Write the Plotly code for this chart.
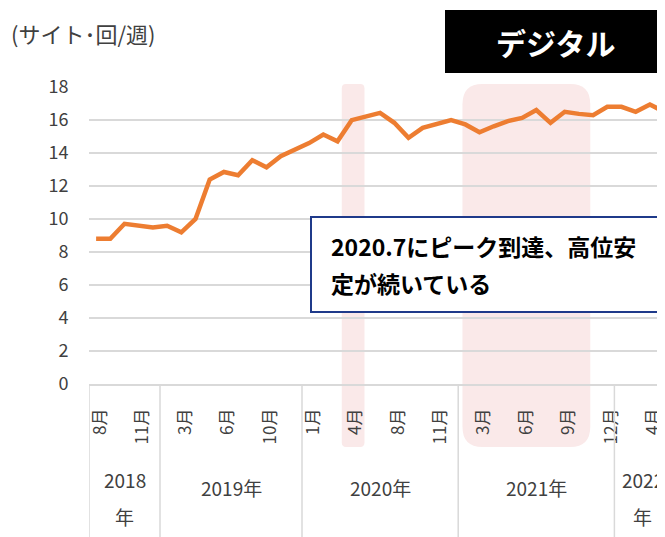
import plotly.graph_objects as go

# survey points (year / month) and weekly site visits
years = [2018] * 5 + [2019] * 10 + [2020] * 11 + [2021] * 11 + [2022] * 4
months = [8, 9, 10, 11, 12,
          2, 3, 4, 5, 6, 7, 9, 10, 11, 12,
          1, 2, 3, 4, 5, 7, 8, 9, 10, 11, 12,
          2, 3, 4, 5, 6, 7, 8, 9, 10, 11, 12,
          2, 3, 4, 5]
visits = [8.8, 8.8, 9.71, 9.59, 9.49,
          9.59, 9.19, 10.0, 12.39, 12.85, 12.65, 13.56, 13.13, 13.8, 14.17,
          14.6, 15.12, 14.71, 15.99, 16.19, 16.43, 15.83, 14.92, 15.52, 15.77, 15.99,
          15.73, 15.26, 15.62, 15.93, 16.13, 16.6, 15.83, 16.5, 16.37, 16.29, 16.8,
          16.8, 16.5, 16.94, 16.5]
year_labels = {2018: ["2018", "年"], 2019: ["2019年"], 2020: ["2020年"],
               2021: ["2021年"], 2022: ["2022", "年"]}
y_ticks = list(range(0, 19, 2))

FONT = "Noto Sans CJK JP"
GRID = "#D9D9D9"
OFF = 8                      # page body margin
W, H = 665 - OFF, 537 - OFF
L, T, PH = 89 - OFF, 87 - OFF, 297
R, B = 0, H - T - PH
PW = W - L - R


def px(x):
    # reference pixel -> paper fraction
    return (x - OFF - L) / PW


def py(y):
    return (384 - y) / PH


def rounded_rect(x0, x1, y0, y1, rx, ry):
    return (f"M{x0 + rx},{y1} L{x1 - rx},{y1} Q{x1},{y1} {x1},{y1 - ry} "
            f"L{x1},{y0 + ry} Q{x1},{y0} {x1 - rx},{y0} "
            f"L{x0 + rx},{y0} Q{x0},{y0} {x0},{y0 + ry} "
            f"L{x0},{y1 - ry} Q{x0},{y1} {x0 + rx},{y1} Z")


idx = list(range(len(visits)))
fig = go.Figure()
fig.add_trace(go.Scatter(
    x=idx, y=visits, mode="lines",
    line=dict(color="#ED7D31", width=4.5),
    hoverinfo="skip",
))

tickvals = [i for i in idx if i % 3 == 0]
ticktext = [f"{months[i]}月" for i in tickvals]

shapes = []
annotations = []

# shaded periods
pink = "#FAE9E9"
shapes.append(dict(type="path", xref="x", yref="paper", layer="below",
                   path=rounded_rect(17.3, 18.9, py(447), py(84), 0.3, 0.015),
                   fillcolor=pink, line=dict(width=0)))
shapes.append(dict(type="path", xref="x", yref="paper", layer="below",
                   path=rounded_rect(25.8, 34.8, py(447), py(84), 1.4, 0.068),
                   fillcolor=pink, line=dict(width=0)))

# year group dividers and labels
bounds = [0] + [i for i in idx[1:] if years[i] != years[i - 1]]
for b in bounds:
    shapes.append(dict(type="line", xref="x", yref="paper",
                       x0=b - 0.5, x1=b - 0.5, y0=0, y1=py(540),
                       line=dict(color=GRID, width=1.5)))
for yr, lines in year_labels.items():
    members = [i for i in idx if years[i] == yr]
    centre = (members[0] + members[-1]) / 2
    ys = [479, 516] if len(lines) == 2 else [487]
    for txt, yy in zip(lines, ys):
        annotations.append(dict(x=centre, xref="x", y=py(yy), yref="paper",
                                text=txt, showarrow=False, xanchor="center", yanchor="middle",
                                font=dict(family=FONT, size=19, color="#404040")))

# comment box
shapes.append(dict(type="rect", xref="paper", yref="paper",
                   x0=px(311), x1=px(680), y0=py(312), y1=py(217),
                   fillcolor="white", line=dict(color="#1F3A8A", width=2)))
annotations.append(dict(x=px(329), y=py(246), xref="paper", yref="paper",
                        text="<b>2020.7にピーク到達、高位安</b>", showarrow=False,
                        xanchor="left", yanchor="middle",
                        font=dict(family=FONT, size=23, color="black")))
annotations.append(dict(x=px(329), y=py(283), xref="paper", yref="paper",
                        text="<b>定が続いている</b>", showarrow=False,
                        xanchor="left", yanchor="middle",
                        font=dict(family=FONT, size=23, color="black")))

# title badge
shapes.append(dict(type="rect", xref="paper", yref="paper",
                   x0=px(445), x1=px(680), y0=py(73), y1=py(10),
                   fillcolor="black", line=dict(width=0)))
annotations.append(dict(x=px(555), y=py(42), xref="paper", yref="paper",
                        text="<b>デジタル</b>", showarrow=False,
                        xanchor="center", yanchor="middle",
                        font=dict(family=FONT, size=30, color="white")))

# unit
annotations.append(dict(x=px(9), y=py(33), xref="paper", yref="paper",
                        text="(サイト･回/週)", showarrow=False,
                        xanchor="left", yanchor="middle",
                        font=dict(family=FONT, size=22, color="#404040")))

fig.update_layout(
    width=W, height=H,
    margin=dict(l=L, r=R, t=T, b=B),
    plot_bgcolor="white", paper_bgcolor="white",
    showlegend=False,
    font=dict(family=FONT, color="#404040"),
    xaxis=dict(
        range=[-0.5, -0.5 + PW / 14.2],
        tickmode="array", tickvals=tickvals, ticktext=ticktext,
        tickangle=-90, tickfont=dict(size=17, color="#404040"),
        ticks="outside", ticklen=16, tickcolor="rgba(0,0,0,0)",
        ticklabelshift=4,
        showgrid=False, zeroline=False,
        showline=True, linecolor=GRID, linewidth=1.5,
    ),
    yaxis=dict(
        range=[0, 18], tickvals=y_ticks,
        tickfont=dict(size=18, color="#404040"),
        ticks="outside", ticklen=16, tickcolor="rgba(0,0,0,0)",
        showgrid=True, gridcolor=GRID, gridwidth=1.5,
        zeroline=False, showline=False,
    ),
    shapes=shapes,
    annotations=annotations,
)

fig.write_html("out.html")
